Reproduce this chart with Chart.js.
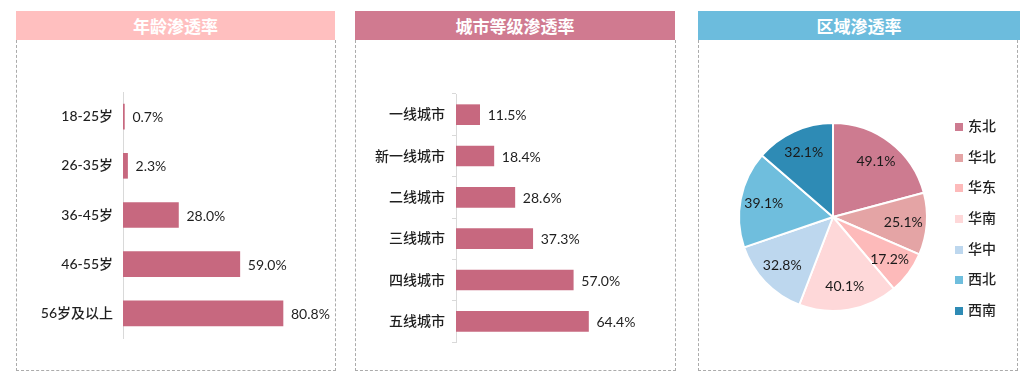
<!DOCTYPE html>
<html>
<head>
<meta charset="utf-8">
<script src="https://cdn.jsdelivr.net/npm/chart.js@4/dist/chart.umd.min.js"></script>
<style>
  html,body{margin:0;padding:0;background:#fff;}
  body{width:1030px;height:382px;position:relative;overflow:hidden;font-family:Lato,"Noto Sans CJK SC",sans-serif;}
  .hdr{position:absolute;top:11px;height:29px;line-height:29px;text-align:center;color:#fff;font-weight:bold;font-size:17px;font-family:"Noto Sans CJK SC",sans-serif;}
  .box{position:absolute;top:40px;height:331px;border:1px dashed #ababab;border-top:none;box-sizing:border-box;}
  canvas{position:absolute;top:40px;}
  .lg{position:absolute;left:955px;font-size:14px;font-weight:500;color:#1f1f1f;font-family:"Noto Sans CJK SC",sans-serif;height:20px;line-height:20px;}
  .lg span.sq{display:inline-block;width:8px;height:8px;margin-right:5px;vertical-align:0px;}
</style>
</head>
<body>
<div class="hdr" style="left:16px;width:319px;background:#FFBFBF">年龄渗透率</div>
<div class="box" style="left:16px;width:320px"></div>
<canvas id="c1" width="319" height="331" style="left:16px"></canvas>

<div class="hdr" style="left:355px;width:320px;background:#D07A90">城市等级渗透率</div>
<div class="box" style="left:355px;width:321px"></div>
<canvas id="c2" width="320" height="331" style="left:355px"></canvas>

<div class="hdr" style="left:698px;width:322px;background:#6CBCDD">区域渗透率</div>
<div class="box" style="left:698px;width:320px"></div>
<canvas id="c3" width="320" height="331" style="left:698px"></canvas>
<div id="legend"></div>

<script>
// ---- data ----
const ageCategories = ['18-25岁','26-35岁','36-45岁','46-55岁','56岁及以上'];
const ageValues = [0.7, 2.3, 28.0, 59.0, 80.8];

const cityCategories = ['一线城市','新一线城市','二线城市','三线城市','四线城市','五线城市'];
const cityValues = [11.5, 18.4, 28.6, 37.3, 57.0, 64.4];

const regionCategories = ['东北','华北','华东','华南','华中','西北','西南'];
const regionValues = [49.1, 25.1, 17.2, 40.1, 32.8, 39.1, 32.1];
const regionColors = ['#CD7B90','#E4A4A5','#FDBABA','#FED8D9','#BDD7EE','#6FBEDD','#2E8BB5'];

const barColor = '#C7687F';
const labelFont = {family:'Lato, "Noto Sans CJK SC", sans-serif', size:14, weight:'500'};
const valueFontCss = '14px Lato, "Noto Sans CJK SC", sans-serif';

const barValueLabels = {
  id:'barValueLabels',
  afterDatasetsDraw(chart){
    const ctx = chart.ctx;
    const meta = chart.getDatasetMeta(0);
    const data = chart.data.datasets[0].data;
    ctx.save();
    ctx.font = valueFontCss;
    ctx.fillStyle = '#1f1f1f';
    ctx.textAlign = 'left';
    ctx.textBaseline = 'middle';
    meta.data.forEach((el,i)=>{
      ctx.fillText(data[i].toFixed(1)+'%', el.x + 8, el.y + 1);
    });
    ctx.restore();
  }
};

function barChart(id, cats, vals, opts){
  return new Chart(document.getElementById(id), {
    type:'bar',
    data:{labels:cats, datasets:[{data:vals, backgroundColor:barColor, barThickness:opts.thickness}]},
    options:{
      indexAxis:'y',
      responsive:false,
      animation:false,
      layout:{padding:opts.padding},
      plugins:{legend:{display:false}, tooltip:{enabled:false}},
      scales:{
        x:{display:false, min:0, max:opts.max},
        y:{
          grid:opts.grid,
          border:{display:true, color:'#d9d9d9', width:1},
          ticks:{padding:opts.tickPad, color:'#1f1f1f', font:labelFont},
          afterFit(s){ s.width = opts.axisWidth; }
        }
      }
    },
    plugins:[barValueLabels]
  });
}

barChart('c1', ageCategories, ageValues, {
  thickness:25, max:100, axisWidth:107, tickPad:10,
  padding:{top:52, bottom:33, right:14, left:0},
  grid:{display:false, drawTicks:false}
});

barChart('c2', cityCategories, cityValues, {
  thickness:20, max:70, axisWidth:101, tickPad:7,
  padding:{top:54, bottom:29, right:75, left:0},
  grid:{display:true, drawOnChartArea:false, drawTicks:true, tickLength:4, color:'#d9d9d9', offset:true}
});

const pieLabels = {
  id:'pieLabels',
  afterDatasetsDraw(chart){
    const ctx = chart.ctx;
    const meta = chart.getDatasetMeta(0);
    const data = chart.data.datasets[0].data;
    ctx.save();
    ctx.font = valueFontCss;
    ctx.fillStyle = '#1a1a1a';
    ctx.textAlign = 'center';
    ctx.textBaseline = 'middle';
    meta.data.forEach((el,i)=>{
      const p = el.getProps(['x','y','startAngle','endAngle','outerRadius']);
      const mid = (p.startAngle + p.endAngle)/2;
      const r = p.outerRadius*0.75;
      ctx.fillText(data[i].toFixed(1)+'%', p.x + Math.cos(mid)*r, p.y + Math.sin(mid)*r);
    });
    ctx.restore();
  }
};

new Chart(document.getElementById('c3'), {
  type:'pie',
  data:{labels:regionCategories, datasets:[{data:regionValues, backgroundColor:regionColors, borderColor:'#ffffff', borderWidth:2}]},
  options:{
    responsive:false,
    animation:false,
    layout:{padding:{left:40, right:90, top:82, bottom:59}},
    plugins:{legend:{display:false}, tooltip:{enabled:false}}
  },
  plugins:[pieLabels]
});

// legend built from the data arrays
const lg = document.getElementById('legend');
regionCategories.forEach((name,i)=>{
  const d = document.createElement('div');
  d.className = 'lg';
  d.style.top = (125 + i*30.67 - 10) + 'px';
  d.innerHTML = '<span class="sq" style="background:'+regionColors[i]+'"></span>'+name;
  lg.appendChild(d);
});
</script>
</body>
</html>
